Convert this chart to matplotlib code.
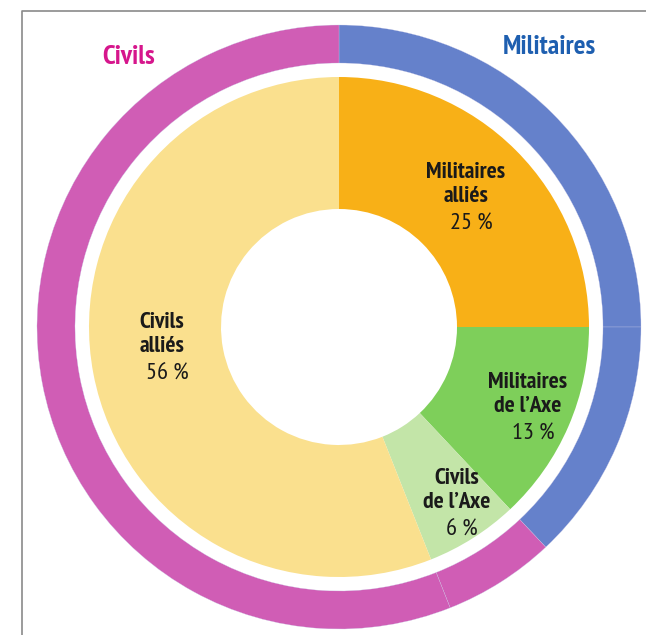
import matplotlib.pyplot as plt

# inner ring
inner_labels = ["Militaires\nalliés", "Militaires\nde l’Axe", "Civils\nde l’Axe", "Civils\nalliés"]
inner_values = [25, 13, 6, 56]
inner_colors = ["#F8B017", "#7ECF5A", "#C3E5A8", "#FAE08E"]

# outer ring: same four parts, coloured by group
outer_colors = ["#6581CB", "#6581CB", "#D05DB5", "#D05DB5"]
group_names = ["Civils", "Militaires"]
group_colors = ["#D6168C", "#1E5FB0"]

W, H = 646, 635
cx, cy = 339, H - 327

plt.rcParams["font.family"] = ["PT Sans Narrow", "Roboto Condensed", "DejaVu Sans"]

fig = plt.figure(figsize=(W / 100, H / 100), dpi=100)
ax = fig.add_axes([0, 0, 1, 1])

ax.pie(inner_values, radius=302, center=(cx, cy),
       colors=outer_colors, startangle=90, counterclock=False,
       wedgeprops=dict(width=38, edgecolor="#c8c8e8", linewidth=0.2))
ax.pie(inner_values, radius=250, center=(cx, cy),
       colors=inner_colors, startangle=90, counterclock=False,
       wedgeprops=dict(width=132, edgecolor="none"))
ax.set_xlim(0, W)
ax.set_ylim(0, H)
ax.set_aspect("equal")
ax.axis("off")

# label anchor: first line, image pixels from top-left
label_pos = [(466, 172), (528, 382), (457, 478), (162, 322)]
for lab, val, (x, y) in zip(inner_labels, inner_values, label_pos):
    lines = lab.split("\n")
    for i, line in enumerate(lines):
        ax.text(x, H - (y + 25 * i), line, ha="center", va="center",
                fontsize=17, fontweight="bold", color="#1a1a1a")
    ax.text(x + 5, H - (y + 25 * len(lines) + 2), f"{val} %", ha="center",
            va="center", fontsize=17.5, color="#1a1a1a")

ax.text(129, H - 57, group_names[0], ha="center", va="center", fontsize=20,
        fontweight="bold", color=group_colors[0])
ax.text(549, H - 47, group_names[1], ha="center", va="center", fontsize=20,
        fontweight="bold", color=group_colors[1])

# frame
ax.plot([22, 22, W], [0, H - 11, H - 11], color="#8a8a8a", linewidth=1.2)

fig.savefig("out.png", dpi=100)
